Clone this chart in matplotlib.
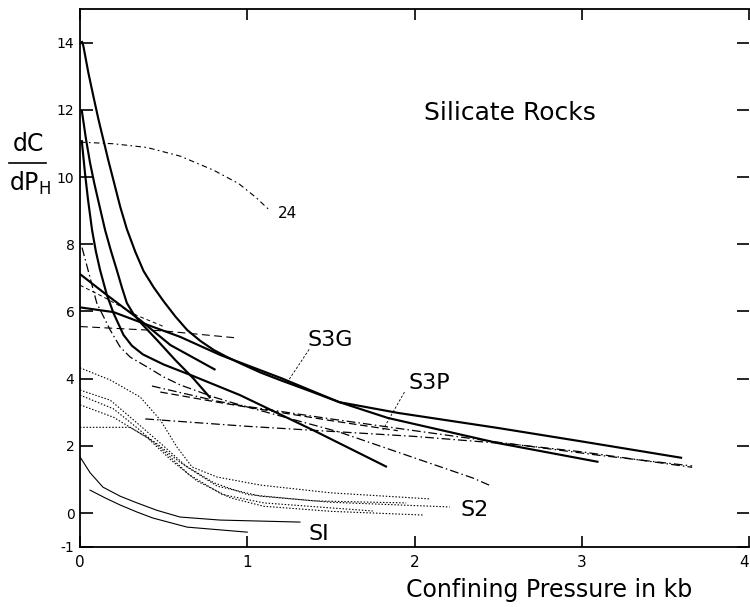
import matplotlib
matplotlib.use('Agg')
import matplotlib.pyplot as plt
from matplotlib.lines import Line2D

plt.rcParams['font.family'] = ['DejaVu Sans']

# ---- heavy solid curves (S3 group) ----
h1_x = [0.01, 0.02, 0.05, 0.08, 0.11, 0.14, 0.17, 0.20, 0.24, 0.28, 0.33, 0.38, 0.44, 0.50, 0.57, 0.64, 0.72, 0.80, 0.88, 0.96, 1.08, 1.20, 1.38, 1.55, 1.90, 2.50, 3.00, 3.60]
h1_y = [14.05, 13.9, 13.1, 12.4, 11.72, 11.1, 10.48, 9.9, 9.12, 8.45, 7.78, 7.2, 6.72, 6.3, 5.85, 5.45, 5.12, 4.85, 4.64, 4.45, 4.18, 3.95, 3.62, 3.3, 2.98, 2.53, 2.13, 1.64]
h2_x = [0.01, 0.035, 0.06, 0.085, 0.108, 0.15, 0.185, 0.22, 0.25, 0.28, 0.32, 0.36, 0.46, 0.57, 0.675, 0.78]
h2_y = [12.0, 11.15, 10.42, 9.82, 9.32, 8.42, 7.8, 7.23, 6.72, 6.25, 5.92, 5.68, 5.15, 4.55, 4.02, 3.42]
h3_x = [0.01, 0.03, 0.048, 0.072, 0.095, 0.12, 0.16, 0.20, 0.26, 0.31, 0.376, 0.50, 0.675, 0.956, 1.40, 1.835]
h3_y = [11.1, 10.1, 9.32, 8.42, 7.78, 7.23, 6.5, 5.95, 5.3, 4.98, 4.72, 4.42, 4.08, 3.51, 2.45, 1.37]
h4_x = [0.0, 0.16, 0.36, 0.54, 0.81]
h4_y = [7.11, 6.49, 5.74, 5.0, 4.26]
h5_x = [0.0, 0.20, 0.36, 0.60, 0.84, 1.20, 1.55, 1.84, 2.50, 3.10]
h5_y = [6.12, 5.98, 5.68, 5.24, 4.70, 4.02, 3.30, 2.83, 2.08, 1.52]

# ---- thin solid curves (S1) ----
s1a_x = [0.0, 0.06, 0.137, 0.24, 0.341, 0.46, 0.598, 0.837, 1.315]
s1a_y = [1.67, 1.2, 0.77, 0.5, 0.30, 0.08, -0.12, -0.21, -0.27]
s1b_x = [0.06, 0.15, 0.239, 0.34, 0.436, 0.64, 1.0]
s1b_y = [0.68, 0.45, 0.24, 0.03, -0.15, -0.42, -0.57]

# ---- dotted curves (S2) ----
d1_x = [0.0, 0.18, 0.36, 0.48, 0.58, 0.67, 0.82, 1.08, 1.50, 2.09]
d1_y = [4.32, 3.96, 3.45, 2.77, 1.96, 1.37, 1.07, 0.83, 0.60, 0.42]
d2_x = [0.0, 0.18, 0.32, 0.48, 0.64, 0.82, 1.08, 1.50, 2.21]
d2_y = [3.66, 3.36, 2.77, 2.08, 1.37, 0.80, 0.50, 0.32, 0.18]
d3_x = [0.0, 0.20, 0.35, 0.50, 0.65, 0.85, 1.10, 1.75]
d3_y = [3.51, 3.10, 2.50, 1.85, 1.15, 0.55, 0.30, 0.06]
d4_x = [0.0, 0.20, 0.40, 0.55, 0.70, 0.90, 1.10, 1.50, 2.05]
d4_y = [3.22, 2.85, 2.25, 1.55, 0.95, 0.45, 0.20, 0.05, -0.06]
d5_x = [0.0, 0.30, 0.45, 0.60, 0.80, 1.00, 1.40, 1.95]
d5_y = [2.55, 2.55, 2.10, 1.50, 0.90, 0.55, 0.36, 0.30]

# ---- curve 24 ----
c24_x = [0.0, 0.20, 0.40, 0.60, 0.80, 0.95, 1.05, 1.136]
c24_y = [11.04, 10.99, 10.88, 10.62, 10.20, 9.80, 9.40, 9.00]

# ---- dash-dot / dashed thin curves ----
dd1_x = [0.012, 0.048, 0.10, 0.18, 0.24, 0.30, 0.40, 0.50, 0.60, 0.80, 0.96, 1.55, 2.35, 2.46]
dd1_y = [7.9, 7.23, 6.25, 5.45, 4.94, 4.64, 4.35, 4.05, 3.81, 3.45, 3.21, 2.41, 1.04, 0.80]
dda_x = [0.39, 1.0, 2.0, 2.6, 3.0, 3.66]
dda_y = [2.80, 2.58, 2.28, 2.04, 1.82, 1.36]
ddc_x = [0.43, 0.82, 0.96, 1.50, 2.00, 2.51, 3.10, 3.66]
ddc_y = [3.78, 3.33, 3.20, 2.80, 2.45, 2.10, 1.72, 1.40]
ddd_x = [0.48, 0.82, 1.0, 1.5, 1.9]
ddd_y = [3.60, 3.30, 3.15, 2.75, 2.45]
l1_x = [0.0, 0.5, 0.94]
l1_y = [5.55, 5.42, 5.21]
l2_x = [0.0, 0.14, 0.34, 0.50]
l2_y = [6.78, 6.43, 5.88, 5.55]

# ---- labels ----
label_texts = ['Silicate Rocks', 'S3G', 'S3P', 'S2', 'SI', '24']
label_x = [2.57, 1.494, 2.09, 2.36, 1.43, 1.24]
label_y = [11.9, 5.15, 3.87, 0.09, -0.62, 8.9]
label_size = [18, 16, 16, 16, 16, 11]
ptr_s3g_x = [1.37, 1.24]
ptr_s3g_y = [4.87, 3.90]
ptr_s3p_x = [1.94, 1.81]
ptr_s3p_y = [3.60, 2.47]

xticks = [0, 1, 2, 3, 4]
xtick_labels = ['0', '1', '2', '3', '4']
yticks = [-1, 0, 2, 4, 6, 8, 10, 12, 14]
ytick_labels = ['-1', '0', '2', '4', '6', '8', '10', '12', '14']

fig = plt.figure(figsize=(7.5, 6.07), dpi=100)
ax = fig.add_axes([0.1067, 0.0995, 0.892, 0.8856])
ax.set_xlim(0, 4)
ax.set_ylim(-1, 15)

k = 'black'
for xs, ys in [(h1_x, h1_y), (h2_x, h2_y), (h3_x, h3_y), (h4_x, h4_y), (h5_x, h5_y)]:
    ax.plot(xs, ys, color=k, lw=1.55, solid_capstyle='butt', solid_joinstyle='round')
for xs, ys in [(s1a_x, s1a_y), (s1b_x, s1b_y)]:
    ax.plot(xs, ys, color=k, lw=0.8)
for xs, ys in [(d1_x, d1_y), (d2_x, d2_y), (d3_x, d3_y), (d4_x, d4_y), (d5_x, d5_y)]:
    ax.plot(xs, ys, color=k, lw=0.8, dashes=(1.3, 1.6))
ax.plot(c24_x, c24_y, color=k, lw=0.8, dashes=(5, 3, 1.5, 3))
for xs, ys in [(dd1_x, dd1_y), (dda_x, dda_y), (ddc_x, ddc_y)]:
    ax.plot(xs, ys, color=k, lw=0.9, dashes=(7, 2.5, 1.2, 2.5))
ax.plot(ddd_x, ddd_y, color=k, lw=0.9, dashes=(6, 3))
ax.plot(l1_x, l1_y, color=k, lw=0.8, dashes=(7, 4))
ax.plot(l2_x, l2_y, color=k, lw=0.7, dashes=(4, 3))
ax.plot(ptr_s3g_x, ptr_s3g_y, color=k, lw=0.6, dashes=(3, 2))
ax.plot(ptr_s3p_x, ptr_s3p_y, color=k, lw=0.6, dashes=(3, 2))

for t, x, y, s in zip(label_texts, label_x, label_y, label_size):
    ax.text(x, y, t, fontsize=s, ha='center', va='center', color=k)

ax.set_xticks(xticks)
ax.set_xticklabels(xtick_labels)
ax.set_yticks(yticks)
ax.set_yticklabels(ytick_labels)
ax.tick_params(axis='x', direction='in', length=8, width=1.2, pad=6, labelsize=11, top=True)
ax.tick_params(axis='y', direction='in', length=9, width=1.2, pad=4, labelsize=10, right=True)
ax.get_xticklabels()[-1].set_horizontalalignment('right')
for sp in ['left', 'bottom', 'top']:
    ax.spines[sp].set_linewidth(1.3)
ax.spines['right'].set_visible(False)

fig.text(549 / 750, 1 - 590 / 607, 'Confining Pressure in kb', fontsize=17, ha='center', va='center')
fig.text(28 / 750, 1 - 144 / 607, 'dC', fontsize=17, ha='center', va='center')
fig.add_artist(Line2D([9 / 750, 46 / 750], [1 - 163 / 607] * 2, transform=fig.transFigure, color=k, lw=1.2))
fig.text(30 / 750, 1 - 183 / 607, r'dP$_\mathregular{H}$', fontsize=17, ha='center', va='center')

fig.savefig('out.png', dpi=100)
